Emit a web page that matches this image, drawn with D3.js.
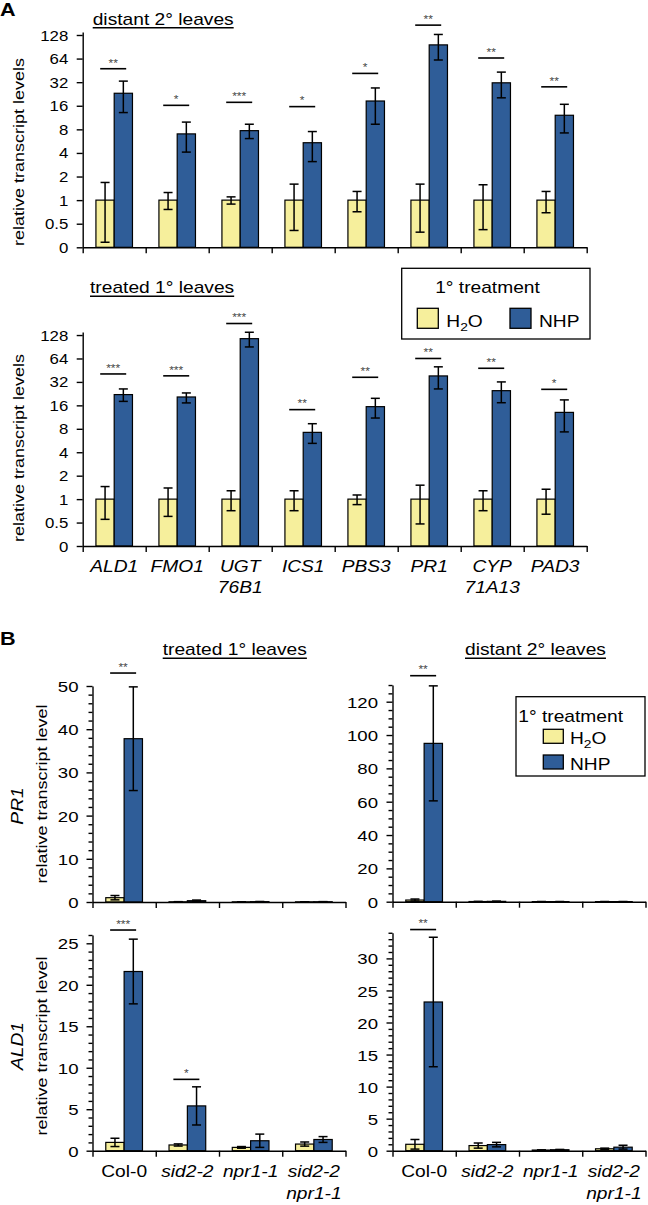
<!DOCTYPE html>
<html><head><meta charset="utf-8">
<script src="https://cdn.jsdelivr.net/npm/d3@7"></script>
<style>
html,body{margin:0;padding:0;background:#fff;}
svg{display:block;}
text{font-family:"Liberation Sans",Arial,Helvetica,sans-serif;}
</style>
</head><body>
<svg id="c" width="648" height="1205"></svg>
<script>
// ================= DATA =================
const series = ["H2O", "NHP"];
const seriesColors = ["#F6EF9C", "#2F5D98"];

// ---- Panel A ----
const genesA = ["ALD1", "FMO1", "UGT76B1", "ICS1", "PBS3", "PR1", "CYP71A13", "PAD3"];
const genesALabels = [["ALD1"], ["FMO1"], ["UGT", "76B1"], ["ICS1"], ["PBS3"], ["PR1"], ["CYP", "71A13"], ["PAD3"]];
const logTicks = [0.25, 0.5, 1, 2, 4, 8, 16, 32, 64, 128];
const logTickLabels = ["0", "0.5", "1", "2", "4", "8", "16", "32", "64", "128"];

// distant 2° leaves
const distH2O   = [1, 1, 1, 1, 1, 1, 1, 1];
const distH2OLo = [0.29, 0.76, 0.89, 0.41, 0.71, 0.39, 0.42, 0.69];
const distH2OHi = [1.68, 1.25, 1.10, 1.60, 1.29, 1.60, 1.57, 1.29];
const distNHP   = [23.1, 7.0, 7.7, 5.4, 18.4, 95.7, 31.4, 12.1];
const distNHPLo = [13.1, 4.1, 6.1, 3.1, 9.3, 61.4, 20.2, 7.2];
const distNHPHi = [33, 9.9, 9.3, 7.5, 27, 130, 43, 16.7];
const distSig   = ["**", "*", "***", "*", "*", "**", "**", "**"];
const distSigAt = [47.5, 16.2, 17.7, 15.6, 41.4, 171, 65.1, 27.9];

// treated 1° leaves
const trtH2O   = [1, 1, 1, 1, 1, 1, 1, 1];
const trtH2OLo = [0.55, 0.60, 0.71, 0.71, 0.85, 0.48, 0.71, 0.64];
const trtH2OHi = [1.45, 1.39, 1.28, 1.28, 1.13, 1.51, 1.28, 1.34];
const trtNHP   = [22, 20.5, 115, 7.2, 15.4, 38.2, 24.7, 13];
const trtNHPLo = [18, 17.2, 90, 5.2, 11, 26, 17.3, 7.3];
const trtNHPHi = [26, 23.1, 139, 9.3, 19.7, 50, 32, 18.8];
const trtSig   = ["***", "***", "***", "**", "**", "**", "**", "*"];
const trtSigAt = [40.5, 38.3, 180, 14.1, 36.7, 64, 47.9, 25.7];

// ---- Panel B ----
const genotypes = ["Col-0", "sid2-2", "npr1-1", "sid2-2 npr1-1"];
const genotypeLabels = [["Col-0"], ["sid2-2"], ["npr1-1"], ["sid2-2", "npr1-1"]];
const genotypeItalic = [false, true, true, true];

const pr1TrtH2O = [1.0, 0.05, 0.04, 0.04];
const pr1TrtH2OErr = [0.5, 0.03, 0.02, 0.02];
const pr1TrtNHP = [37.8, 0.3, 0.08, 0.06];
const pr1TrtNHPErr = [12, 0.15, 0.04, 0.03];
const pr1TrtSig = ["**", "", "", ""];
const pr1TrtSigAt = [53, 0, 0, 0];
const pr1TrtTicks = [0, 10, 20, 30, 40, 50];

const pr1DistH2O = [1.0, 0.1, 0.05, 0.05];
const pr1DistH2OErr = [0.6, 0.05, 0.02, 0.02];
const pr1DistNHP = [95, 0.2, 0.05, 0.05];
const pr1DistNHPErr = [34.5, 0.1, 0.02, 0.02];
const pr1DistSig = ["**", "", "", ""];
const pr1DistSigAt = [135.6, 0, 0, 0];
const pr1DistTicks = [0, 20, 40, 60, 80, 100, 120];

const ald1TrtH2O = [1.0, 0.69, 0.4, 0.8];
const ald1TrtH2OErr = [0.5, 0.13, 0.1, 0.25];
const ald1TrtNHP = [21.6, 5.4, 1.2, 1.35];
const ald1TrtNHPErr = [3.9, 2.3, 0.8, 0.35];
const ald1TrtSig = ["***", "*", "", ""];
const ald1TrtSigAt = [26.6, 8.6, 0, 0];
const ald1TrtTicks = [0, 5, 10, 15, 20, 25];

const ald1DistH2O = [1.0, 0.8, 0.1, 0.3];
const ald1DistH2OErr = [0.75, 0.4, 0.03, 0.1];
const ald1DistNHP = [23.2, 0.95, 0.15, 0.55];
const ald1DistNHPErr = [10.1, 0.35, 0.05, 0.3];
const ald1DistSig = ["**", "", "", ""];
const ald1DistSigAt = [34.5, 0, 0, 0];
const ald1DistTicks = [0, 5, 10, 15, 20, 25, 30];

// ================= DRAWING =================
const SX = 1.2;
const svg = d3.select("#c");
svg.append("rect").attr("width", 648).attr("height", 1205).attr("fill", "#fff");

function txt(parent, x, y, s, size, anchor = "start", rot = false) {
  return parent.append("text")
    .attr("transform", `translate(${x},${y})${rot ? " rotate(-90)" : ""} scale(${SX},1)`)
    .attr("font-size", size).attr("text-anchor", anchor).attr("fill", "#000").text(s);
}
function h2oText(t) {
  t.text(null);
  t.append("tspan").text("H");
  t.append("tspan").attr("font-size", "0.72em").attr("dy", 4).text("2");
  t.append("tspan").attr("dy", -4).text("O");
  return t;
}
function titleU(x, y, s) {
  const t = txt(svg, x, y, s, 16);
  const w = t.node().getComputedTextLength() * SX;
  svg.append("line").attr("x1", x).attr("x2", x + w).attr("y1", y + 3.2).attr("y2", y + 3.2)
    .attr("stroke", "#000").attr("stroke-width", 1.6);
}

function panel(c) {
  const g = svg.append("g");
  const n = c.cats.length;
  const xIdx = d3.scaleLinear().domain([0, n]).range([c.x0, c.x1]);
  const xBand = d3.scaleBand().domain(c.cats).range([c.x0, c.x1]).padding(0);
  const step = xBand.step();
  const barW = step * 0.29;
  const xSub = d3.scaleBand().domain(series).range([-barW, barW]);
  const y = c.y;
  const base = y.domain()[0];
  const cx = (d) => xBand(d) + step / 2;

  const vals = [c.h2o, c.nhp], lo = [c.h2oLo, c.nhpLo], hi = [c.h2oHi, c.nhpHi];
  series.forEach((s, si) => {
    g.append("g").selectAll("rect").data(c.cats).join("rect")
      .attr("x", d => cx(d) + xSub(s))
      .attr("y", (d, i) => y(vals[si][i]))
      .attr("width", xSub.bandwidth())
      .attr("height", (d, i) => Math.max(0, y(base) - y(vals[si][i])))
      .attr("fill", seriesColors[si]).attr("stroke", "#000").attr("stroke-width", 1.2);
  });
  // error bars
  series.forEach((s, si) => {
    const eg = g.append("g").attr("stroke", "#000").attr("stroke-width", 1.5);
    c.cats.forEach((d, i) => {
      const xm = cx(d) + xSub(s) + xSub.bandwidth() / 2;
      const y1 = y(Math.max(lo[si][i], base)), y2 = y(hi[si][i]);
      eg.append("line").attr("x1", xm).attr("x2", xm).attr("y1", y1).attr("y2", y2);
      eg.append("line").attr("x1", xm - 4.5).attr("x2", xm + 4.5).attr("y1", y1).attr("y2", y1);
      eg.append("line").attr("x1", xm - 4.5).attr("x2", xm + 4.5).attr("y1", y2).attr("y2", y2);
    });
  });
  // significance
  c.cats.forEach((d, i) => {
    if (!c.sig[i]) return;
    const ly = y(c.sigAt[i]);
    const xm = cx(d) - 1;
    g.append("line").attr("x1", xm - 13).attr("x2", xm + 13).attr("y1", ly).attr("y2", ly)
      .attr("stroke", "#000").attr("stroke-width", 1.6);
    txt(g, xm, ly - 2.2, c.sig[i], 10, "middle").attr("fill", "#444");
  });

  // y axis
  const ya = d3.axisLeft(y).tickValues(c.ticks).tickSize(6).tickSizeOuter(0)
    .tickFormat((d, i) => c.tickLabels ? c.tickLabels[i] : d);
  const yg = g.append("g").attr("transform", `translate(${c.x0},0)`).call(ya);
  yg.selectAll("text").attr("x", null).attr("dy", null)
    .attr("transform", `translate(${-c.labelGap},${c.tickFont * 0.36}) scale(${SX},1)`)
    .attr("font-size", c.tickFont).attr("font-family", null).attr("fill", "#000");
  if (c.minor) {
    const mt = d3.range(0, y.domain()[1] + 1e-9, c.minor).filter(v => !c.ticks.includes(v));
    g.append("g").attr("transform", `translate(${c.x0},0)`)
      .call(d3.axisLeft(y).tickValues(mt).tickSize(4).tickSizeOuter(0).tickFormat(""))
      .select(".domain").remove();
  }
  // x axis
  const xg = g.append("g").attr("transform", `translate(0,${y(base)})`)
    .call(d3.axisBottom(xIdx).tickValues(d3.range(n + 1)).tickSize(6).tickSizeOuter(0).tickFormat(""));
  g.selectAll(".domain, .tick line").attr("stroke", "#000").attr("stroke-width", 1.4);

  // category labels
  if (c.labels) {
    c.cats.forEach((d, i) => {
      c.labels[i].forEach((ln, li) => {
        const t = txt(g, cx(d), c.labelY + li * c.labelDy, ln, 16, "middle");
        if (c.italic[i]) t.attr("font-style", "italic");
      });
    });
  }
  return g;
}

// ---- Panel A ----
txt(svg, 0, 15.5, "A", 18).attr("font-weight", "bold");
titleU(92.7, 24.5, "distant 2° leaves");
titleU(90, 293, "treated 1° leaves");

const yAtop = d3.scaleLog().base(2).domain([0.25, 140]).range([247.3, 247.3 - 23.59 * Math.log2(140 / 0.25)]);
panel({
  cats: genesA, x0: 82.7, x1: 586.7, y: yAtop,
  h2o: distH2O, h2oLo: distH2OLo, h2oHi: distH2OHi,
  nhp: distNHP, nhpLo: distNHPLo, nhpHi: distNHPHi,
  sig: distSig, sigAt: distSigAt,
  ticks: logTicks, tickLabels: logTickLabels, tickFont: 14, labelGap: 14.4
});
txt(svg, 23.5, 152, "relative transcript levels", 15, "middle", true);

const yAbot = d3.scaleLog().base(2).domain([0.25, 140]).range([546, 546 - 23.44 * Math.log2(140 / 0.25)]);
panel({
  cats: genesA, x0: 82.7, x1: 586.7, y: yAbot,
  h2o: trtH2O, h2oLo: trtH2OLo, h2oHi: trtH2OHi,
  nhp: trtNHP, nhpLo: trtNHPLo, nhpHi: trtNHPHi,
  sig: trtSig, sigAt: trtSigAt,
  ticks: logTicks, tickLabels: logTickLabels, tickFont: 14, labelGap: 14.4,
  labels: genesALabels, italic: genesA.map(() => true), labelY: 571.7, labelDy: 21.7
});
txt(svg, 23.5, 448, "relative transcript levels", 15, "middle", true);

// legend A
{
  const lg = svg.append("g");
  lg.append("rect").attr("x", 401.7).attr("y", 268.3).attr("width", 188.3).attr("height", 70.7)
    .attr("fill", "#fff").attr("stroke", "#000").attr("stroke-width", 1.3);
  txt(lg, 487.5, 293.3, "1° treatment", 16, "middle");
  const lx = [417.3, 510];
  series.forEach((s, i) => {
    lg.append("rect").attr("x", lx[i]).attr("y", 308.3).attr("width", 21).attr("height", 20)
      .attr("fill", seriesColors[i]).attr("stroke", "#000").attr("stroke-width", 1.3);
    const t = txt(lg, lx[i] + 29, 326.7, s, 16);
    if (s === "H2O") h2oText(t);
  });
}

// ---- Panel B ----
txt(svg, 0, 645, "B", 18).attr("font-weight", "bold");
titleU(162.7, 655, "treated 1° leaves");
titleU(465, 655, "distant 2° leaves");

const errLo = (v, e) => v.map((x, i) => x - e[i]);
const errHi = (v, e) => v.map((x, i) => x + e[i]);

panel({
  cats: genotypes, x0: 92.5, x1: 345.5, y: d3.scaleLinear().domain([0, 50]).range([902, 686]),
  h2o: pr1TrtH2O, h2oLo: errLo(pr1TrtH2O, pr1TrtH2OErr), h2oHi: errHi(pr1TrtH2O, pr1TrtH2OErr),
  nhp: pr1TrtNHP, nhpLo: errLo(pr1TrtNHP, pr1TrtNHPErr), nhpHi: errHi(pr1TrtNHP, pr1TrtNHPErr),
  sig: pr1TrtSig, sigAt: pr1TrtSigAt, ticks: pr1TrtTicks, minor: 2, tickFont: 15.5, labelGap: 14
});
panel({
  cats: genotypes, x0: 392.5, x1: 645.5, y: d3.scaleLinear().domain([0, 130]).range([901.7, 901.7 - 130 * 1.6667]),
  h2o: pr1DistH2O, h2oLo: errLo(pr1DistH2O, pr1DistH2OErr), h2oHi: errHi(pr1DistH2O, pr1DistH2OErr),
  nhp: pr1DistNHP, nhpLo: errLo(pr1DistNHP, pr1DistNHPErr), nhpHi: errHi(pr1DistNHP, pr1DistNHPErr),
  sig: pr1DistSig, sigAt: pr1DistSigAt, ticks: pr1DistTicks, minor: 5, tickFont: 15.5, labelGap: 14.5
});
panel({
  cats: genotypes, x0: 92.5, x1: 345.5, y: d3.scaleLinear().domain([0, 26]).range([1150.7, 1150.7 - 26 * 8.296]),
  h2o: ald1TrtH2O, h2oLo: errLo(ald1TrtH2O, ald1TrtH2OErr), h2oHi: errHi(ald1TrtH2O, ald1TrtH2OErr),
  nhp: ald1TrtNHP, nhpLo: errLo(ald1TrtNHP, ald1TrtNHPErr), nhpHi: errHi(ald1TrtNHP, ald1TrtNHPErr),
  sig: ald1TrtSig, sigAt: ald1TrtSigAt, ticks: ald1TrtTicks, minor: 1, tickFont: 15.5, labelGap: 14,
  labels: genotypeLabels, italic: genotypeItalic, labelY: 1176.7, labelDy: 22.5
});
panel({
  cats: genotypes, x0: 392.5, x1: 645.5, y: d3.scaleLinear().domain([0, 34]).range([1150.7, 1150.7 - 34 * 6.41]),
  h2o: ald1DistH2O, h2oLo: errLo(ald1DistH2O, ald1DistH2OErr), h2oHi: errHi(ald1DistH2O, ald1DistH2OErr),
  nhp: ald1DistNHP, nhpLo: errLo(ald1DistNHP, ald1DistNHPErr), nhpHi: errHi(ald1DistNHP, ald1DistNHPErr),
  sig: ald1DistSig, sigAt: ald1DistSigAt, ticks: ald1DistTicks, minor: 1, tickFont: 15.5, labelGap: 14.5,
  labels: genotypeLabels, italic: genotypeItalic, labelY: 1176.7, labelDy: 22.5
});

txt(svg, 47, 794, "relative transcript level", 15, "middle", true);
txt(svg, 23, 806, "PR1", 16, "middle", true).attr("font-style", "italic");
txt(svg, 47, 1046, "relative transcript level", 15, "middle", true);
txt(svg, 23, 1046, "ALD1", 16, "middle", true).attr("font-style", "italic");

// legend B
{
  const lg = svg.append("g");
  lg.append("rect").attr("x", 516).attr("y", 696.7).attr("width", 129).attr("height", 79.3)
    .attr("fill", "#fff").attr("stroke", "#000").attr("stroke-width", 1.3);
  txt(lg, 518.3, 721.7, "1° treatment", 16);
  const ly = [729.3, 755];
  series.forEach((s, i) => {
    lg.append("rect").attr("x", 543.3).attr("y", ly[i]).attr("width", 20).attr("height", 14)
      .attr("fill", seriesColors[i]).attr("stroke", "#000").attr("stroke-width", 1.3);
    const t = txt(lg, 570, ly[i] + 15, s, 16);
    if (s === "H2O") h2oText(t);
  });
}
</script>
</body></html>
